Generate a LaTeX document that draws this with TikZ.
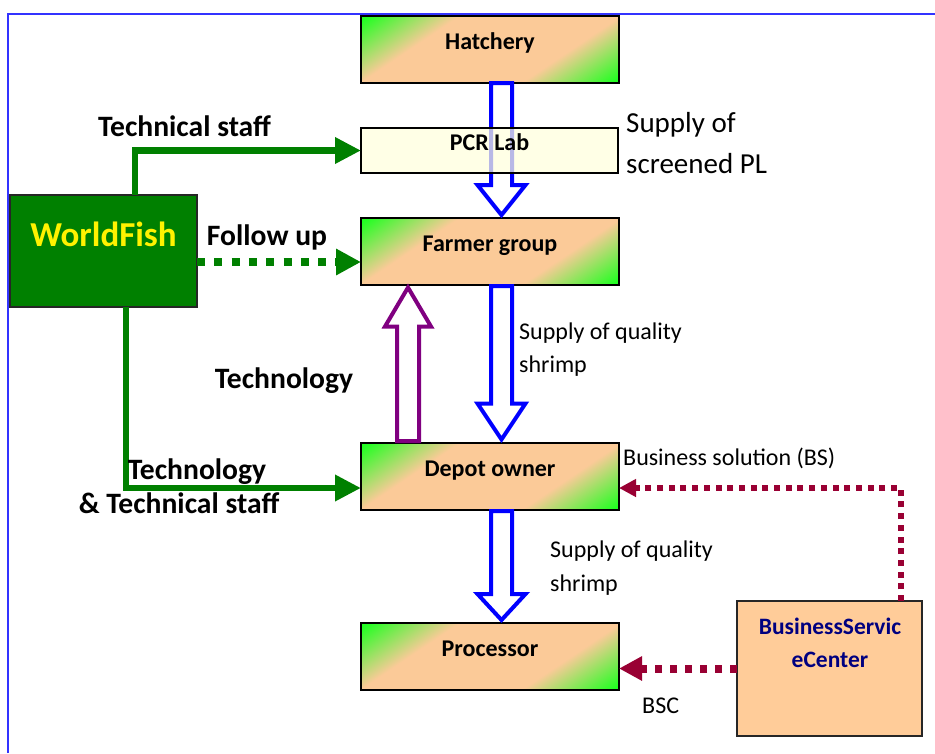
\documentclass[tikz,border=0pt]{standalone}
\usepackage{fontspec}
\setmainfont{Carlito}
\usetikzlibrary{calc,arrows.meta}

\definecolor{wfgreen}{HTML}{008000}
\definecolor{limegreen}{HTML}{22FF22}
\definecolor{peach}{HTML}{FBCA98}
\definecolor{pcrfill}{HTML}{FFFFDD}
\definecolor{bsred}{HTML}{990033}
\definecolor{bscfill}{HTML}{FFCC99}
\definecolor{bscnavy}{HTML}{000080}
\definecolor{framecol}{HTML}{3333FF}
\definecolor{techpurple}{HTML}{800080}

\pgfdeclarelayer{paper}
\pgfdeclarelayer{fills}
\pgfsetlayers{paper,fills,main}

% green corners, peach band across the middle
\pgfdeclareverticalshading{stageshade}{100bp}{color(0bp)=(limegreen); color(34bp)=(limegreen);
  color(42.5bp)=(peach); color(57.5bp)=(peach); color(66bp)=(limegreen); color(100bp)=(limegreen)}

% diagonal gradient fill behind a stage box
\newcommand\stagefill[1]{%
  \begin{pgfonlayer}{fills}
  \begin{scope}
    \clip (#1.south west) rectangle (#1.north east);
    \shade[shading=stageshade, transform canvas={shift={(#1.center)}, rotate=34}]
      (-150,-150) rectangle (150,150);
  \end{scope}
  \end{pgfonlayer}}

% hollow block arrow: style, tail, tip, head length, shaft half width, head half width
\newcommand\hollowarrow[6]{%
  \path #2 coordinate (ha-t) #3 coordinate (ha-h);
  \coordinate (ha-b) at ($(ha-h)!#4!(ha-t)$);
  \draw[#1] ($(ha-t)!#5!90:(ha-h)$) -- ($(ha-b)!#5!90:(ha-h)$)
    -- ($(ha-b)!#6!90:(ha-h)$) -- (ha-h) -- ($(ha-b)!#6!-90:(ha-h)$)
    -- ($(ha-b)!#5!-90:(ha-h)$) -- ($(ha-t)!#5!-90:(ha-h)$) -- cycle;
}

\tikzset{
  stagebox/.style={draw=black, line width=1.5pt, inner sep=0pt, outer sep=0pt,
    minimum width=258pt, minimum height=67pt,
    font=\bfseries\fontsize{24}{28}\selectfont, text height=0pt, text depth=0pt},
  sidelabel/.style={font=\bfseries\fontsize{29.6}{34}\selectfont, anchor=base, inner sep=0pt},
  note/.style={font=\fontsize{24}{28}\selectfont, anchor=base west, inner sep=0pt},
  notebig/.style={font=\fontsize{29}{34}\selectfont, anchor=base west, inner sep=0pt},
  bsctext/.style={font=\bfseries\fontsize{23.5}{28}\selectfont, text=bscnavy, anchor=base, inner sep=0pt},
  greenline/.style={draw=wfgreen, line width=6.5pt, -{Triangle[length=26pt,width=25pt]}},
  greendots/.style={draw=wfgreen, line width=8pt, dash pattern=on 8pt off 9.3pt,
    -{Triangle[length=25pt,width=25pt]}},
  bsdots/.style={draw=bsred, line width=6pt, dash pattern=on 6pt off 5.7pt,
    -{Triangle[length=17pt,width=17pt]}},
  bscdots/.style={draw=bsred, line width=8pt, dash pattern=on 7.5pt off 7.5pt,
    -{Triangle[length=23pt,width=23pt]}},
  bluearrow/.style={draw=blue, fill=white, line width=4pt},
  purplearrow/.style={draw=techpurple, fill=white, line width=4pt},
}

\begin{document}
\begin{tikzpicture}[x=1pt,y=-1pt]
\useasboundingbox (0,0) rectangle (935,753);
\begin{pgfonlayer}{paper}
\fill[white] (0,0) rectangle (935,753);
\end{pgfonlayer}

% outer frame
\draw[framecol, line width=2pt] (8,753) -- (8,14) -- (935,14);

% value chain stages
\node[stagebox] (hatch)  at (490,49.5)  {Hatchery};
\node[stagebox] (farmer) at (490,251.5) {Farmer group};
\node[stagebox] (depot)  at (490,476.5) {Depot owner};
\node[stagebox] (proc)   at (490,656.5) {Processor};
\stagefill{hatch}
\stagefill{farmer}
\stagefill{depot}
\stagefill{proc}

% supply flows
\hollowarrow{bluearrow}{($(hatch.south)+(11.5,0)$)}{($(farmer.north)+(11.5,-3)$)}{30pt}{10.5pt}{24pt}
\hollowarrow{bluearrow}{($(farmer.south)+(11.5,1)$)}{($(depot.north)+(11.5,-3.5)$)}{36pt}{10.5pt}{24pt}
\hollowarrow{bluearrow}{($(depot.south)+(11.5,1)$)}{($(proc.north)+(11.5,-3)$)}{26pt}{10.5pt}{24pt}
\hollowarrow{purplearrow}{($(depot.north)+(-82,-2)$)}{($(farmer.south)+(-82,2.5)$)}{39pt}{11pt}{23pt}

% screening lab, laid over the hatchery flow
\node[draw=black, line width=1.5pt, fill=pcrfill, fill opacity=0.72, text opacity=1,
      inner sep=0pt, outer sep=0pt, minimum width=257pt, minimum height=45pt,
      font=\bfseries\fontsize{24}{28}\selectfont, text height=0pt, text depth=0pt]
      (pcr) at (489.5,150.5) {PCR Lab};

% WorldFish
\node[draw=black!85, line width=1.5pt, fill=wfgreen, text=yellow, inner sep=0pt, outer sep=0pt,
      minimum width=187pt, minimum height=112pt,
      font=\bfseries\fontsize{35}{40}\selectfont, text height=0pt, text depth=10pt]
      (wf) at (103.5,251) {WorldFish};

% business service centre
\node[draw=black!85, line width=1.5pt, fill=bscfill, inner sep=0pt, outer sep=0pt,
      minimum width=185pt, minimum height=135pt] (bsc) at (829.5,668.5) {};
\node[bsctext] (bsc1) at (830,634) {BusinessServic};
\node[bsctext] (bsc2) at (830,667) {eCenter};

% WorldFish links
\draw[greenline] ($(wf.north west)+(125,0)$) |- (pcr.west);
\draw[greendots] ($(wf.east)+(0,11)$) -- ($(farmer.west)+(0,10.5)$);
\draw[greenline] ($(wf.south west)+(116,0)$) |- ($(depot.west)+(0,11.5)$);

% business service links
\draw[bsdots] ($(bsc.north west)+(164,0)$) |- ($(depot.east)+(0,11.5)$);
\draw[bscdots] (bsc.west) -- ($(proc.east)+(0,12)$);

% labels
\node[sidelabel] (l-techstaff) at (184.5,136) {Technical staff};
\node[sidelabel] (l-follow)    at (267,245)   {Follow up};
\node[sidelabel] (l-tech)      at (284,388)   {Technology};
\node[sidelabel] (l-tech2)     at (197,479)   {Technology};
\node[sidelabel] (l-techstaff2) at (179,513)  {\& Technical staff};

\node[notebig] (n-pl1) at (626,132) {Supply of};
\node[notebig] (n-pl2) at (626,173) {screened PL};
\node[note] (n-q1) at (519,339) {Supply of quality};
\node[note] (n-q2) at (519,372) {shrimp};
\node[note] (n-q3) at (550,557) {Supply of quality};
\node[note] (n-q4) at (550,591) {shrimp};
\node[note] (n-bs) at (623,465) {Business solution (BS)};
\node[note] (n-bsc) at (642,713) {BSC};
\end{tikzpicture}
\end{document}
